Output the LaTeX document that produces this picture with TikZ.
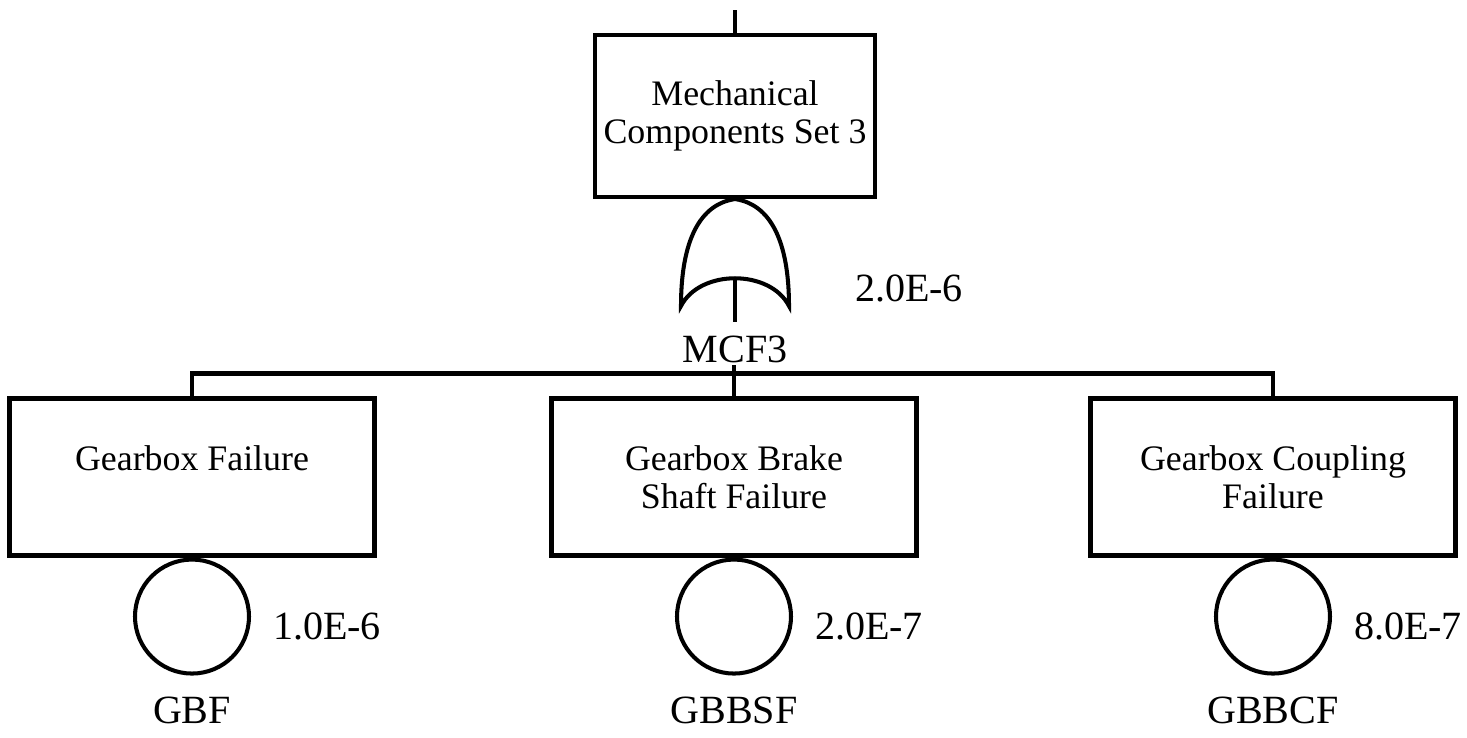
\documentclass[tikz,border=0pt]{standalone}
\usepackage{fontspec}
\setmainfont{Liberation Serif}
\usetikzlibrary{positioning}

\begin{document}
\begin{tikzpicture}[x=0.1mm,y=-0.1mm,line width=1.15pt,
  evbox/.style={draw,rectangle,minimum width=36.5mm,minimum height=15.7mm,inner sep=0pt,align=center,font=\fontsize{10.2}{10.8}\selectfont},
  basic/.style={draw,circle,minimum size=11.4mm,inner sep=0pt},
  lbl/.style={inner sep=0pt,font=\fontsize{11.4}{13}\selectfont}]
\useasboundingbox (0,0) rectangle (1467,737);
% top event with OR gate
\node[evbox,minimum width=28mm,minimum height=16.2mm] (mcs3) at (735,116) {Mechanical\\Components Set 3};
\draw (mcs3.north) -- ++(0,-23);
\draw (mcs3.south) .. controls (695,205) and (681,250) .. (681,306)
  .. controls (700,269) and (770,269) .. (789,306)
  .. controls (789,250) and (775,205) .. (mcs3.south) -- cycle;
\coordinate (gin) at (735,278);
\coordinate (gout) at (735,322);
\draw (gin) -- (gout);
\node[lbl,below=1.2mm of gout] (mcf3) {MCF3};
\node[lbl,anchor=west] (pmcf3) at (853,288) {2.0E-6};
% basic events
\foreach \nm/\x/\txt/\p/\id in {gbf/192/Gearbox Failure\\\mbox{}/1.0E-6/GBF,gbbsf/734/Gearbox Brake\\Shaft Failure/2.0E-7/GBBSF,gbcf/1273/Gearbox Coupling\\Failure/8.0E-7/GBBCF}{
  \node[evbox] (\nm) at (\x,477) {\txt};
  \node[basic,below=0pt of \nm] (\nm-c) {};
  \node[lbl,right=2mm of \nm-c,yshift=-1mm] (\nm-p) {\p};
  \node[lbl,below=1.9mm of \nm-c] (\nm-id) {\id};
}
\draw (gbf.north) -- ++(0,-23) -| (gbcf.north);
\draw (gbbsf.north) -- ++(0,-31);
\end{tikzpicture}
\end{document}
